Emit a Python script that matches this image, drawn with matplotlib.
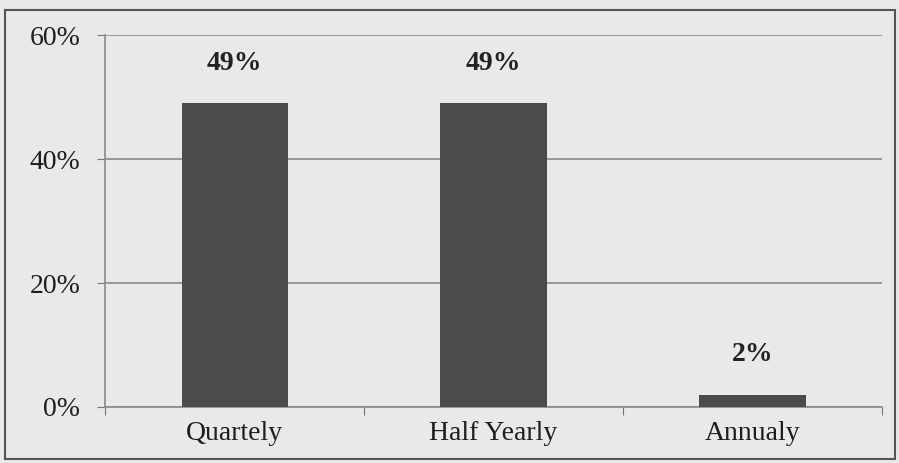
import matplotlib
matplotlib.use('Agg')
import matplotlib.pyplot as plt
from matplotlib.patches import Rectangle
from matplotlib.ticker import FuncFormatter

categories = ['Quartely', 'Half Yearly', 'Annualy']
values = [49, 49, 2]
yticks = [0, 20, 40, 60]

plt.rcParams['font.family'] = ['Liberation Serif', 'DejaVu Serif']

fig = plt.figure(figsize=(8.99, 4.63), dpi=100)
fig.patch.set_facecolor('#e9e9e9')
ax = fig.add_axes([0.117, 0.121, 0.864, 0.803])
ax.set_facecolor('#e9e9e9')

# outer frame of the scanned chart
fig.patches.append(Rectangle((0.006, 0.008), 0.99, 0.97, transform=fig.transFigure,
                             fill=False, edgecolor='#555555', linewidth=1.5))

x = range(len(categories))
bars = ax.bar(x, values, width=0.41, color='#4b4b4b', zorder=3)

for b, v in zip(bars, values):
    ax.annotate('%d%%' % v, (b.get_x() + b.get_width() / 2, v),
                xytext=(0, 20), textcoords='offset points',
                ha='center', va='bottom', fontsize=20, fontweight='bold', color='#222222')

ax.set_ylim(0, 60)
ax.set_yticks(yticks)
ax.yaxis.set_major_formatter(FuncFormatter(lambda v, p: '%d%%' % v))
ax.set_xlim(-0.5, 2.5)
ax.set_xticks([-0.5, 0.5, 1.5, 2.5])
ax.set_xticklabels([])
ax.set_xticks(list(x), minor=True)
ax.set_xticklabels(categories, minor=True)
ax.tick_params(axis='x', which='minor', length=0, pad=10, labelsize=20, labelcolor='#1e1e1e')
ax.tick_params(axis='x', which='major', length=6, color='#777777', direction='out')
ax.tick_params(axis='y', length=6, color='#777777', labelsize=20, labelcolor='#1e1e1e', pad=12)

ax.grid(axis='y', color='#8a8a8a', linewidth=1.2, zorder=0)
for s in ['top', 'right']:
    ax.spines[s].set_visible(False)
ax.spines['left'].set_color('#8a8a8a')
ax.spines['bottom'].set_color('#8a8a8a')
ax.spines['left'].set_linewidth(1.2)
ax.spines['bottom'].set_linewidth(1.2)

fig.savefig('out.png', dpi=100, facecolor=fig.get_facecolor())
